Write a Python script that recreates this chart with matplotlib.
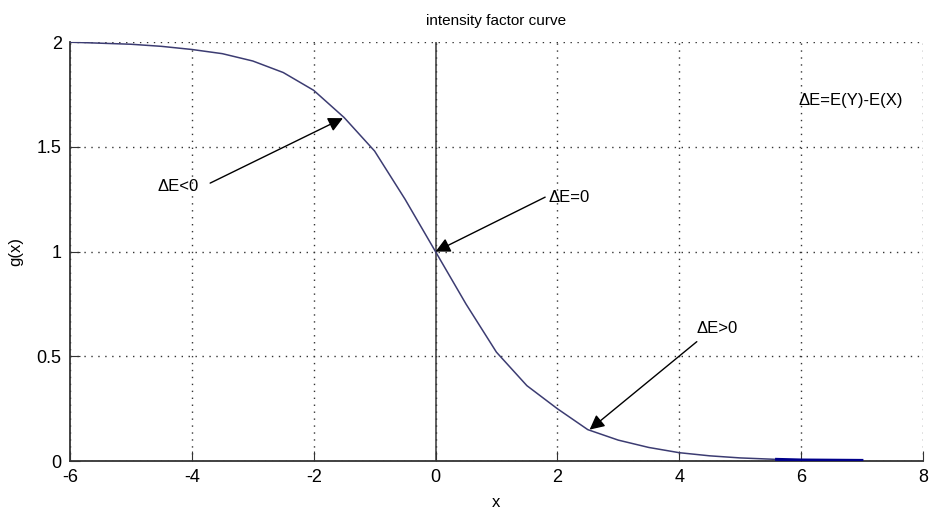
import matplotlib.pyplot as plt

plt.rcParams['font.family'] = ['Liberation Sans', 'DejaVu Sans']
plt.rcParams['axes.unicode_minus'] = False

# curve points
x_vals = [-6, -5.5, -5, -4.5, -4, -3.5, -3, -2.5, -2, -1.5, -1, -0.5, 0,
          0.5, 1, 1.5, 2, 2.5, 3, 3.5, 4, 4.5, 5, 5.6]
g_vals = [2.0, 1.995, 1.99, 1.98, 1.965, 1.945, 1.91, 1.855, 1.77, 1.64, 1.48, 1.25, 1.0,
          0.75, 0.52, 0.36, 0.25, 0.15, 0.10, 0.065, 0.04, 0.025, 0.015, 0.008]
tail_x = [5.6, 6, 7]
tail_g = [0.008, 0.005, 0.003]

fig = plt.figure(figsize=(9.34, 5.14), dpi=100)
ax = fig.add_axes([0.075, 0.103, 0.913, 0.815])

ax.axvline(0, color='#555555', lw=1.3, zorder=1)
ax.plot(x_vals, g_vals, color='#3c3c72', lw=1.1, zorder=3)
ax.plot(tail_x, tail_g, color='#00008b', lw=2.2, zorder=3)

ax.set_xlim(-6, 8)
ax.set_ylim(0, 2)
ax.set_xticks(range(-6, 9, 2))
ax.set_yticks([0, 0.5, 1, 1.5, 2])
ax.set_yticklabels(['0', '0.5', '1', '1.5', '2'])
ax.grid(True, linestyle=(0, (1, 4)), color='#333333', lw=1.0)
ax.spines['top'].set_visible(False)
ax.spines['right'].set_visible(False)
for s in ['left', 'bottom']:
    ax.spines[s].set_color('#333333')
    ax.spines[s].set_linewidth(1.3)
ax.tick_params(direction='in', length=7, labelsize=13, pad=6, color='#333333')

ax.set_title('intensity factor curve', fontsize=11, pad=12)
ax.set_xlabel('x', fontsize=12, labelpad=6)
ax.set_ylabel('g(x)', fontsize=12, labelpad=10)

arrow = dict(arrowstyle='-|>', color='black', lw=1.0, mutation_scale=22,
             shrinkA=0, shrinkB=0)
ax.text(-4.57, 1.31, 'ΔE<0', fontsize=12, va='center', ha='left')
ax.annotate('', xy=(-1.52, 1.637), xytext=(-3.70, 1.327), arrowprops=arrow)
ax.text(1.85, 1.26, 'ΔE=0', fontsize=12, va='center', ha='left')
ax.annotate('', xy=(0.0, 1.0), xytext=(1.80, 1.26), arrowprops=arrow)
ax.text(4.29, 0.635, 'ΔE>0', fontsize=12, va='center', ha='left')
ax.annotate('', xy=(2.53, 0.15), xytext=(4.29, 0.57), arrowprops=arrow)
ax.text(5.96, 1.72, 'ΔE=E(Y)-E(X)', fontsize=12, va='center', ha='left')

fig.savefig('out.png', dpi=100)
